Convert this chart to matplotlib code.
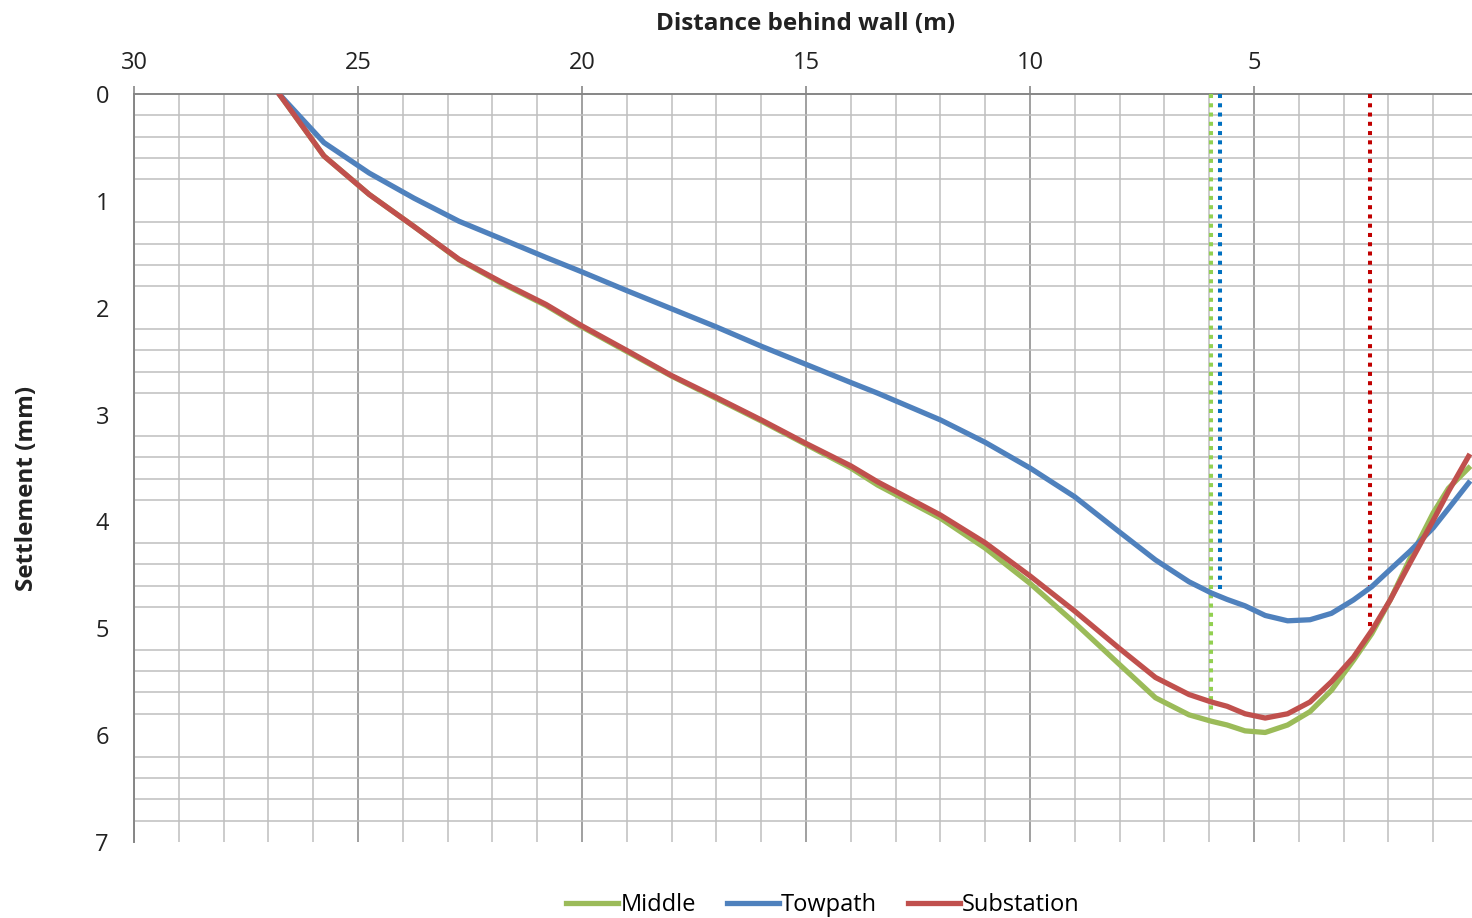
import matplotlib.pyplot as plt
from matplotlib.ticker import MultipleLocator

# distance behind wall (m) and settlement (mm) for each section
distance = [26.76, 25.76, 24.75, 23.75, 22.75, 21.8, 20.8, 20.0, 19.0, 18.0,
            17.0, 16.0, 15.0, 14.0, 13.4, 12.0, 11.0, 10.0, 9.0, 8.0,
            7.2, 6.45, 5.95, 5.6, 5.2, 4.75, 4.25, 3.75, 3.27, 2.78,
            2.37, 1.96, 1.52, 1.0, 0.66, 0.21]
middle = [0.0, 0.58, 0.94, 1.24, 1.55, 1.77, 1.98, 2.18, 2.41, 2.64,
          2.85, 3.06, 3.28, 3.50, 3.66, 3.97, 4.25, 4.58, 4.95, 5.34,
          5.65, 5.81, 5.87, 5.905, 5.96, 5.975, 5.905, 5.78, 5.58, 5.30,
          5.05, 4.735, 4.35, 3.92, 3.69, 3.50]
towpath = [0.0, 0.455, 0.74, 0.975, 1.19, 1.355, 1.53, 1.665, 1.84, 2.01,
           2.18, 2.36, 2.53, 2.70, 2.80, 3.05, 3.26, 3.50, 3.77, 4.10,
           4.36, 4.565, 4.67, 4.73, 4.79, 4.88, 4.93, 4.92, 4.86, 4.735,
           4.61, 4.45, 4.28, 4.06, 3.88, 3.64]
substation = [0.0, 0.58, 0.94, 1.24, 1.545, 1.76, 1.97, 2.17, 2.40, 2.635,
              2.84, 3.05, 3.27, 3.48, 3.63, 3.94, 4.20, 4.51, 4.84, 5.19,
              5.46, 5.62, 5.69, 5.73, 5.80, 5.84, 5.80, 5.69, 5.50, 5.27,
              5.02, 4.735, 4.39, 3.99, 3.72, 3.39]

# marker positions (m) and the settlement they drop to (mm)
marker_x = [5.95, 5.76, 2.40]
marker_depth = [5.80, 4.67, 5.02]
marker_colors = ['#92D050', '#0070C0', '#C00000']

names = ['Middle', 'Towpath', 'Substation']
colors = ['#9BBB59', '#4F81BD', '#C0504D']

plt.rcParams['font.family'] = ['Open Sans', 'DejaVu Sans']

fig = plt.figure(figsize=(14.72, 9.18), dpi=100)
ax = fig.add_axes([134 / 1472, 1 - 842 / 918, 1344 / 1472, 748 / 918])

for mx, md, mc in zip(marker_x, marker_depth, marker_colors):
    ax.plot([mx, mx], [0, md], color=mc, lw=2.9, linestyle=(0, (1, 1.3)),
            dash_capstyle='butt', zorder=3)

for series, name, c in zip([middle, towpath, substation], names, colors):
    ax.plot(distance, series, color=c, lw=3.8, label=name, zorder=4,
            solid_joinstyle='round')

ax.set_xlim(30, 0)
ax.set_ylim(7, 0)

ax.xaxis.set_major_locator(MultipleLocator(5))
ax.xaxis.set_minor_locator(MultipleLocator(1))
ax.yaxis.set_major_locator(MultipleLocator(1))
ax.yaxis.set_minor_locator(MultipleLocator(0.2))

ax.xaxis.tick_top()
ax.xaxis.set_label_position('top')
ax.tick_params(axis='x', which='major', length=6, width=1.2, color='#868686',
               labelsize=17, pad=8, labelcolor='#222222')
ax.tick_params(axis='x', which='minor', length=0)
ax.tick_params(axis='y', which='both', length=0, labelsize=17, pad=18,
               labelcolor='#222222')
ax.set_xticks([30, 25, 20, 15, 10, 5])

ax.grid(axis='x', which='major', color='#868686', lw=1.1)
ax.grid(axis='x', which='minor', color='#bfbfbf', lw=1.1)
ax.grid(axis='y', which='minor', color='#bfbfbf', lw=1.1)
ax.set_axisbelow(True)

for side in ['bottom', 'right']:
    ax.spines[side].set_visible(False)
for side in ['top', 'left']:
    ax.spines[side].set_color('#868686')
    ax.spines[side].set_linewidth(1.4)

ax.set_xlabel('Distance behind wall (m)', fontsize=17.5, fontweight='bold',
              labelpad=15, color='#222222')
fig.text(27 / 1472, 1 - 488 / 918, 'Settlement (mm)', rotation=90,
         fontsize=17.5, fontweight='bold', ha='center', va='center',
         color='#222222')

fig.legend(loc='center', bbox_to_anchor=(823 / 1472, 1 - 905 / 918),
           ncol=3, frameon=False, fontsize=17, handlelength=2.2,
           handletextpad=0.1, columnspacing=1.3)

fig.savefig('out.png', dpi=100)
